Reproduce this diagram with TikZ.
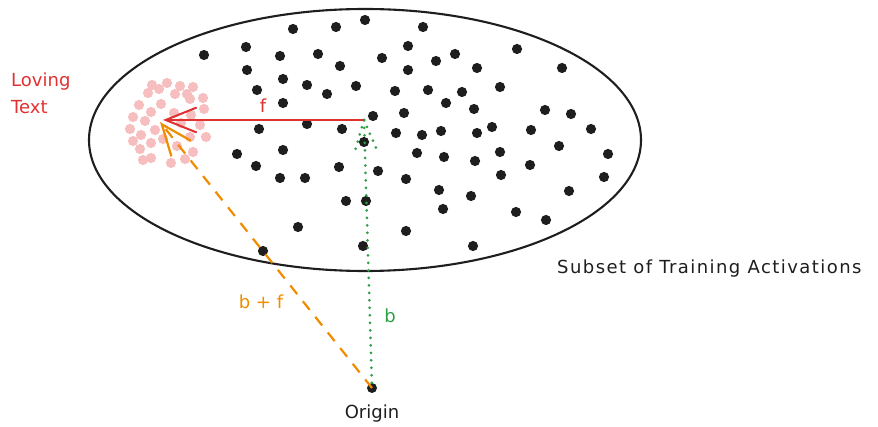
\documentclass[tikz,border=0pt]{standalone}
\usepackage{fontspec}
\setmainfont{DejaVu Sans}
\usetikzlibrary{arrows.meta}
\definecolor{inkblack}{HTML}{1E1E1E}
\definecolor{exred}{HTML}{E03131}
\definecolor{exorange}{HTML}{F08C00}
\definecolor{exgreen}{HTML}{2F9E44}
\definecolor{expink}{RGB}{246,190,190}
\begin{document}
\begin{tikzpicture}[x=1pt,y=-1pt,
  lbl/.style={font=\fontsize{18}{27}\selectfont, inner sep=0pt},
  blackdot/.style={fill=inkblack},
  pinkdot/.style={fill=expink},
  redarrow/.style={draw=exred, line width=2pt, -{Straight Barb[length=31pt,width=25pt,line width=2pt]}},
  orangearrow/.style={draw=exorange, line width=2.2pt, dash pattern=on 11pt off 9pt, -{Straight Barb[length=31pt,width=25pt,line width=2.2pt]}},
  greenline/.style={draw=exgreen, line width=3pt, line cap=round, dash pattern=on 0pt off 7.5pt}
]
\useasboundingbox (0,0) rectangle (878,427);

% ellipse
\draw[inkblack, line width=2.1pt] (365,140) ellipse [x radius=276, y radius=131];

% pink cluster
\foreach \p in {(152,85),(167,83),(159,89),(180,86),(193,87),(148,93),(175,94),(187,94),(190,99),(203,98),
  (139,105),(161,104),(204,109),(151,112),(174,113),(133,117),(191,115),(145,121),(181,123),(200,125),
  (130,129),(155,130),(141,135),(163,139),(190,137),(206,137),(133,141),(151,143),(177,146),(140,149),
  (193,152),(151,158),(143,160),(171,163),(185,159)}
  \fill[pinkdot] \p circle (5.1);

% black dots
\foreach \p in {(204,55),(246,47),(293,29),(336,27),(365,20),(280,56),(318,54),(340,66),(247,70),(283,79),
  (307,85),(356,86),(257,90),(327,94),(283,103),(373,116),(259,129),(307,124),(342,129),
  (423,27),(408,46),(382,58),(436,61),(455,54),(477,68),(517,49),(562,68),(408,70),(395,91),(428,90),
  (462,92),(500,87),(446,103),(474,109),(404,113),(545,110),(571,114),(396,133),(422,135),(441,131),
  (477,133),(492,127),(531,130),(591,129),
  (364,142),(237,154),(283,150),(256,166),(280,178),(305,178),(339,167),(378,171),(346,201),(366,201),
  (298,227),(363,246),(263,251),
  (417,153),(444,157),(475,161),(500,152),(559,146),(608,154),(406,179),(439,190),(471,196),(501,175),
  (530,165),(569,191),(604,177),(443,209),(516,212),(546,220),(406,231),(473,246)}
  \fill[blackdot] \p circle (5.1);

% named points
\node[circle, fill=inkblack, inner sep=0pt, minimum size=10pt] (origin) at (372,388) {};
\coordinate (bpt) at (364,120);
\coordinate (lt) at (163,120);
\coordinate (ltb) at (160,122);

% vectors
\draw[greenline] (origin) -- (bpt);
\draw[greenline] (bpt) -- ++(-9,31);
\draw[greenline] (bpt) -- ++(13,30);
\draw[redarrow] (bpt) -- (lt);
\draw[orangearrow] (origin.center) -- (ltb);

% labels
\node[lbl, text=exred, align=left, anchor=north west] (loving) at (11,73) {Loving\\Text};
\node[lbl, text=exred] (flabel) at (263,106) {f};
\node[lbl, text=exorange] (bflabel) at (261,302) {b + f};
\node[lbl, text=exgreen] (blabel) at (390,316) {b};
\node[lbl, text=inkblack, anchor=base] (originlabel) at (372,418) {Origin};
\node[lbl, text=inkblack, anchor=base west, font=\fontsize{18}{22}\selectfont\addfontfeature{LetterSpace=8}] (subset) at (557,274) {Subset of Training Activations};
\end{tikzpicture}
\end{document}
